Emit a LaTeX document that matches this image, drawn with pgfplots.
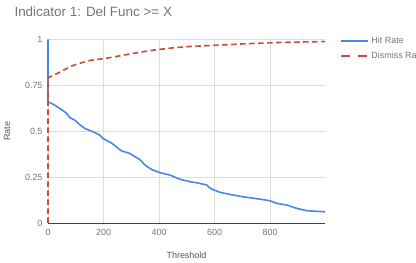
\documentclass[border=0pt]{standalone}
\usepackage{pgfplots}
\pgfplotsset{compat=1.18}
\usepackage{fontspec}
\setmainfont{Liberation Sans}
\definecolor{hitblue}{HTML}{4A86E8}
\definecolor{disred}{HTML}{CF4A3C}
\definecolor{txtgray}{HTML}{757575}
\definecolor{lblgray}{HTML}{555555}
\definecolor{gridgray}{HTML}{DDDDDD}
\begin{document}
\begin{tikzpicture}
\useasboundingbox (-48bp,-40bp) rectangle (368bp,223bp);
\clip (-48bp,-40bp) rectangle (368bp,223bp);
\begin{axis}[
  at={(0,0)}, anchor=south west,
  scale only axis, width=277bp, height=183.5bp,
  xmin=0, xmax=998, ymin=0, ymax=1,
  clip=false,
  axis lines*=left,
  y axis line style={draw=none},
  x axis line style={draw=black!75, line width=0.8bp},
  xtick={0,200,400,600,800},
  xticklabels={0,200,400,600,800},
  ytick={0,0.25,0.5,0.75,1},
  yticklabels={0,0.25,0.5,0.75,1},
  major tick length=0pt,
  grid=major,
  major grid style={gridgray, line width=0.7bp},
  tick label style={font=\fontsize{9}{10}\selectfont, text=txtgray},
  xticklabel style={yshift=-3bp},
  yticklabel style={xshift=-2bp},
  xlabel={Threshold},
  ylabel={Rate},
  label style={font=\fontsize{9}{10}\selectfont, text=lblgray},
  xlabel style={at={(axis description cs:0.5,0)}, anchor=center, yshift=-32bp},
  ylabel style={at={(axis description cs:0,0.5)}, anchor=center, yshift=41bp},
  title={Indicator 1: Del Func >= X},
  title style={font=\fontsize{13.5}{16}\selectfont, text=txtgray,
    at={(axis description cs:0,1)}, anchor=west, xshift=-37bp, yshift=22bp},
  legend style={at={(axis description cs:1,1)}, anchor=north west,
    xshift=12bp, yshift=7bp, draw=none, fill=none,
    font=\fontsize{9}{10}\selectfont, text=txtgray,
    row sep=3bp, cells={anchor=west}},
  legend cell align=left,
]
\addplot[hitblue, line width=1.6bp,
  legend image code/.code={\draw[hitblue, line width=2.2bp] (0bp,0bp) -- (27bp,0bp);}]
coordinates {
(0,1) (0,0.66) (1,0.66) (19,0.647) (49,0.618) (65,0.60) (79,0.574) (97,0.56)
(115,0.535) (133,0.515) (169,0.493) (185,0.48) (199,0.46) (229,0.436)
(250,0.41) (265,0.393) (295,0.379) (315,0.36) (331,0.346) (350,0.315)
(373,0.292) (404,0.274) (440,0.261) (476,0.238) (512,0.225) (540,0.218)
(572,0.207) (580,0.195) (590,0.185) (620,0.167) (668,0.152) (716,0.14) (764,0.13)
(800,0.121) (824,0.107) (860,0.098) (896,0.08) (932,0.067) (998,0.061)
};
\addlegendentry{Hit Rate}
\addplot[disred, line width=1.6bp, dash pattern=on 5.5bp off 3.5bp,
  legend image code/.code={\draw[disred, line width=2.2bp, dash pattern=on 9bp off 8bp] (0bp,0bp) -- (27bp,0bp);}]
coordinates {
(0,0) (0,0.79) (5,0.795) (20,0.805) (43,0.822) (65,0.84) (91,0.859) (120,0.873)
(151,0.886) (211,0.898) (284,0.918) (368,0.94) (452,0.955) (512,0.962)
(596,0.968) (716,0.977) (836,0.984) (998,0.989)
};
\addlegendentry{Dismiss Rate}
\end{axis}
\end{tikzpicture}
\end{document}
